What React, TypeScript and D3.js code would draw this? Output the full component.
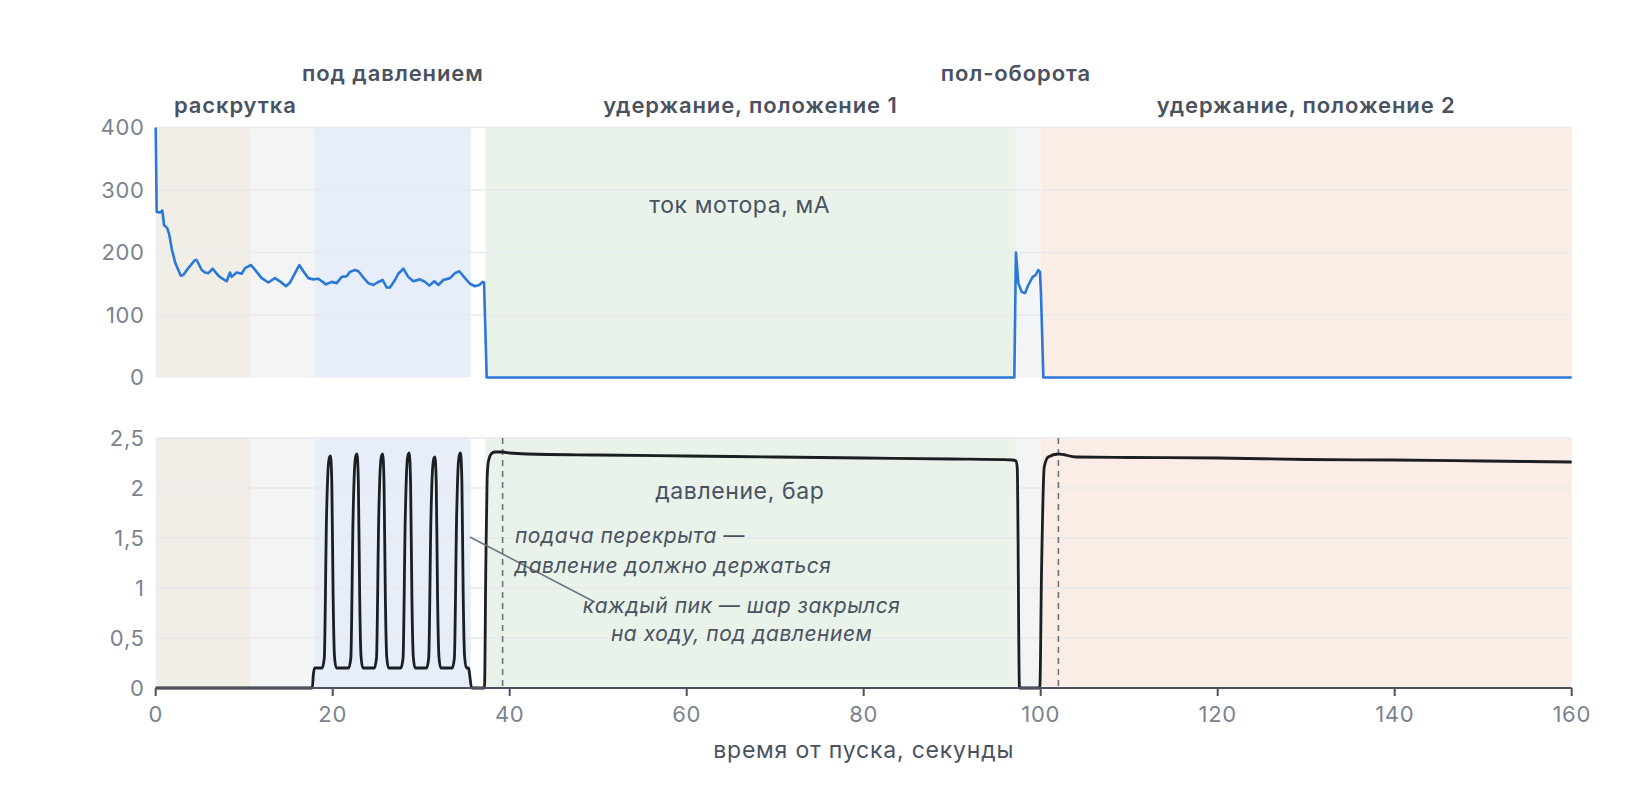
import * as d3 from 'd3'

// --- data ---
const timeTicks = [0, 20, 40, 60, 80, 100, 120, 140, 160]
const currentTicks = [0, 100, 200, 300, 400]
const pressureTicks = [0, 0.5, 1, 1.5, 2, 2.5]

// background phase bands (seconds)
const bandFrom = [0, 10.8, 18, 37.25, 97.2, 100]
const bandTo = [10.8, 18, 35.6, 97.2, 100, 160]
const bandFill = ['#f0eee6', '#f3f4f6', '#e7eef9', '#e9f3ea', '#f3f4f6', '#faede5']

// phase labels above the chart
const phaseNames = ['раскрутка', 'под давлением', 'удержание, положение 1', 'пол-оборота', 'удержание, положение 2']
const phaseAt = [9, 26.8, 67.2, 97.2, 130]
const phaseRow = [1, 0, 1, 0, 1]

// moments the feed was shut
const shutMarks = [39.2, 102]

// motor current, mA: [seconds, value]
const motorCurrent: [number, number][] = [
  [0, 400], [0.11, 265], [0.49, 264], [0.75, 267], [0.94, 244], [1.31, 239], [1.54, 228],
  [1.84, 204], [2.22, 183], [2.44, 176], [2.82, 163], [3.12, 164], [3.68, 175], [4.44, 188],
  [4.63, 188], [5.2, 172], [5.57, 168], [5.95, 167], [6.44, 174], [7.08, 163], [7.45, 159],
  [8.02, 154], [8.4, 168], [8.58, 161], [9.15, 168], [9.72, 166], [10.09, 175], [10.77, 180],
  [11.41, 169], [11.98, 159], [12.73, 152], [13.48, 159], [14.12, 153], [14.72, 146],
  [15.18, 152], [15.74, 167], [16.23, 180], [16.68, 170], [17.25, 159], [17.81, 157],
  [18.38, 158], [18.86, 153], [19.24, 149], [19.88, 153], [20.45, 151], [21.02, 161],
  [21.58, 162], [21.95, 169], [22.52, 172], [22.9, 170], [23.46, 160], [24.02, 151],
  [24.59, 148], [25.04, 152], [25.65, 156], [26.1, 144], [26.47, 144], [27.04, 156],
  [27.41, 166], [27.98, 174], [28.54, 161], [29.11, 154], [29.86, 157], [30.43, 153],
  [30.92, 147], [31.48, 154], [31.94, 148], [32.5, 156], [33.25, 159], [33.82, 167],
  [34.3, 170], [34.95, 159], [35.51, 150], [36.08, 146], [36.57, 148], [36.95, 153],
  [37.1, 152], [37.4, 0], [97.02, 0], [97.2, 200], [97.47, 151], [97.85, 137], [98.23, 135],
  [98.6, 148], [99.1, 161], [99.43, 164], [99.73, 172], [99.92, 169], [100.03, 135],
  [100.3, 0], [160, 0],
]

// line pressure, bar: [seconds, value]
const linePressure: [number, number][] = [
  [0, 0], [17.7, 0], [17.8, 0.12], [17.95, 0.2],
  [18.8, 0.2], [19.05, 0.3], [19.3, 1.7], [19.5, 2.22], [19.65, 2.31], [19.75, 2.32], [19.9, 2.05], [20.05, 0.9], [20.2, 0.32], [20.4, 0.2],
  [21.8, 0.2], [22.05, 0.3], [22.3, 1.7], [22.5, 2.24], [22.65, 2.33], [22.75, 2.34], [22.9, 2.05], [23.05, 0.9], [23.2, 0.32], [23.4, 0.2],
  [24.7, 0.2], [24.95, 0.3], [25.2, 1.7], [25.4, 2.24], [25.55, 2.33], [25.65, 2.34], [25.8, 2.05], [25.95, 0.9], [26.1, 0.32], [26.3, 0.2],
  [27.7, 0.2], [27.95, 0.3], [28.2, 1.7], [28.4, 2.25], [28.55, 2.34], [28.65, 2.35], [28.8, 2.05], [28.95, 0.9], [29.1, 0.32], [29.3, 0.2],
  [30.6, 0.2], [30.85, 0.3], [31.1, 1.7], [31.3, 2.21], [31.45, 2.3], [31.55, 2.31], [31.7, 2.05], [31.85, 0.9], [32.0, 0.32], [32.2, 0.2],
  [33.5, 0.2], [33.75, 0.3], [34.0, 1.7], [34.2, 2.25], [34.35, 2.34], [34.45, 2.35], [34.6, 2.05], [34.75, 0.9], [34.9, 0.32], [35.1, 0.2],
  [35.35, 0.2], [35.45, 0.15], [35.7, 0], [37.15, 0], [37.3, 1.2], [37.45, 2.1], [37.6, 2.27],
  [37.9, 2.34], [38.3, 2.36], [39.2, 2.36], [40, 2.35], [42, 2.34], [50, 2.33], [60, 2.32],
  [70, 2.31], [80, 2.3], [90, 2.29], [96.8, 2.28], [97.2, 2.27], [97.35, 2.2], [97.6, 0],
  [99.9, 0], [100.1, 1.2], [100.4, 2.21], [100.85, 2.31], [102, 2.34], [104, 2.31],
  [110, 2.305], [120, 2.3], [130, 2.285], [140, 2.28], [150, 2.27], [160, 2.26],
]

const fontFamily = 'Inter, "Noto Sans", sans-serif'
const tickColor = '#7b8390'
const textColor = '#4a5261'
const gridColor = '#e8e9ee'

const ru = d3.formatLocale({ decimal: ',', thousands: '\u00a0', grouping: [3], currency: ['', ''] })
const fmt = ru.format('~g')

export default function App() {
  const width = 1640
  const height = 787
  const left = 155.7
  const right = 1571.7
  const top1 = 127.5
  const bot1 = 377.5
  const top2 = 438
  const bot2 = 688

  const x = d3.scaleLinear().domain([0, 160]).range([left, right])
  const yI = d3.scaleLinear().domain([0, 400]).range([bot1, top1])
  const yP = d3.scaleLinear().domain([0, 2.5]).range([bot2, top2])

  const currentLine = d3.line<[number, number]>()
    .x(d => x(d[0]))
    .y(d => yI(d[1]))
    .curve(d3.curveLinear)

  const pressureLine = d3.line<[number, number]>()
    .x(d => x(d[0]))
    .y(d => yP(d[1]))
    .curve(d3.curveMonotoneX)

  const panels = [
    { top: top1, bottom: bot1 },
    { top: top2, bottom: bot2 },
  ]

  const tickText = { fontSize: 22, fill: tickColor, letterSpacing: 0.7 }

  return (
    <svg
      width={width}
      height={height}
      style={{ position: 'absolute', left: 0, top: 0, background: '#fff', fontFamily }}
    >
      {/* bands */}
      {panels.map((p, pi) =>
        bandFrom.map((b, i) => (
          <rect
            key={`b${pi}-${i}`}
            x={x(b)}
            y={p.top}
            width={x(bandTo[i]) - x(b)}
            height={p.bottom - p.top}
            fill={bandFill[i]}
          />
        ))
      )}

      {/* grid */}
      {currentTicks.filter(t => t > 0).map(t => (
        <line key={`gi${t}`} x1={left} x2={right} y1={yI(t)} y2={yI(t)} stroke={gridColor} strokeWidth={1.5} />
      ))}
      {pressureTicks.filter(t => t > 0).map(t => (
        <line key={`gp${t}`} x1={left} x2={right} y1={yP(t)} y2={yP(t)} stroke={gridColor} strokeWidth={1.5} />
      ))}

      {/* y tick labels */}
      {currentTicks.map(t => (
        <text key={`ti${t}`} x={left - 11} y={yI(t)} dy="0.36em" textAnchor="end" {...tickText}>
          {fmt(t)}
        </text>
      ))}
      {pressureTicks.map(t => (
        <text key={`tp${t}`} x={left - 11} y={yP(t)} dy="0.36em" textAnchor="end" {...tickText}>
          {fmt(t)}
        </text>
      ))}

      {/* phase labels */}
      {phaseNames.map((n, i) => (
        <text
          key={`ph${i}`}
          x={x(phaseAt[i])}
          y={phaseRow[i] === 0 ? 80.7 : 112.7}
          textAnchor="middle"
          fontSize={22}
          fontWeight={600}
          letterSpacing={0.9}
          fill={textColor}
        >
          {n}
        </text>
      ))}

      {/* panel titles */}
      <text x={x(66)} y={yI(263.7)} textAnchor="middle" fontSize={23} letterSpacing={0.6} fill={textColor}>
        ток мотора, мА
      </text>
      <text x={x(66)} y={yP(1.895)} textAnchor="middle" fontSize={23} letterSpacing={0.6} fill={textColor}>
        давление, бар
      </text>

      {/* shut-off markers */}
      {shutMarks.map(t => (
        <line
          key={`sm${t}`}
          x1={x(t)}
          x2={x(t)}
          y1={top2}
          y2={bot2}
          stroke="#6b7280"
          strokeWidth={1.6}
          strokeDasharray="6,5"
        />
      ))}

      {/* series */}
      <path d={currentLine(motorCurrent) || ''} fill="none" stroke="#2b78d8" strokeWidth={2.6} strokeLinejoin="round" />
      <path d={pressureLine(linePressure) || ''} fill="none" stroke="#1b1e22" strokeWidth={2.8} strokeLinejoin="round" />

      {/* annotations */}
      <line x1={x(35.5)} y1={yP(1.51)} x2={x(49.6)} y2={yP(0.86)} stroke="#6b7280" strokeWidth={1.5} />
      <g fontSize={21} fontStyle="italic" letterSpacing={0.5} fill={textColor}>
        <text x={x(40.6)} y={yP(1.447)} textAnchor="start">подача перекрыта —</text>
        <text x={x(40.6)} y={yP(1.153)} textAnchor="start">давление должно держаться</text>
        <text x={x(66.2)} y={yP(0.753)} textAnchor="middle">каждый пик — шар закрылся</text>
        <text x={x(66.2)} y={yP(0.47)} textAnchor="middle">на ходу, под давлением</text>
      </g>

      {/* x axis */}
      <line x1={left} x2={right} y1={bot2} y2={bot2} stroke="#4b5260" strokeWidth={2.2} />
      {timeTicks.map(t => (
        <g key={`tx${t}`}>
          <line x1={x(t)} x2={x(t)} y1={bot2} y2={bot2 + 8} stroke="#4b5260" strokeWidth={2} />
          <text x={x(t)} y={721.7} textAnchor="middle" {...tickText}>
            {fmt(t)}
          </text>
        </g>
      ))}
      <text x={(left + right) / 2} y={758.3} textAnchor="middle" fontSize={23} letterSpacing={0.8} fill={textColor}>
        время от пуска, секунды
      </text>
    </svg>
  )
}
